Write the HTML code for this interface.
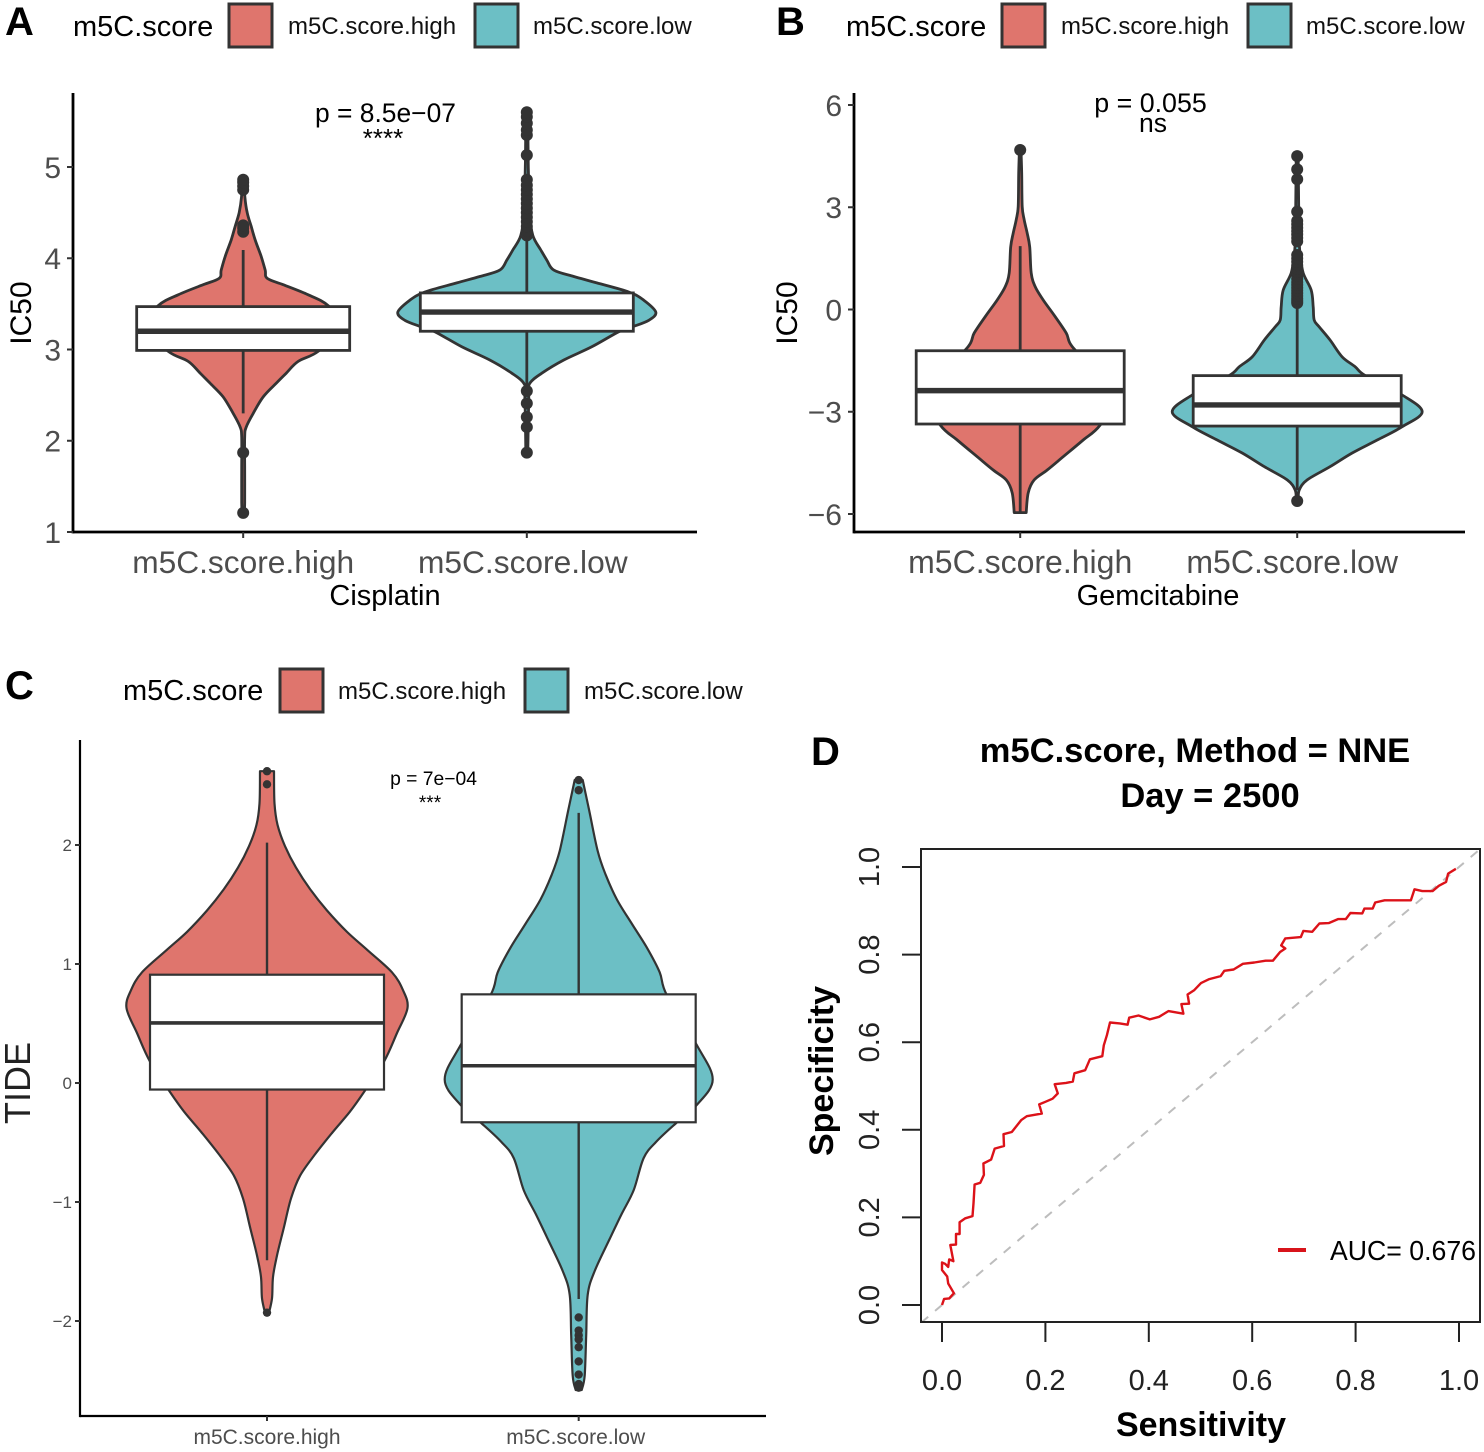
<!DOCTYPE html>
<html lang="en">
<head>
<meta charset="utf-8">
<title>m5C.score multi-panel figure</title>
<style>
html,body{margin:0;padding:0;background:#fff;width:1484px;height:1452px;overflow:hidden}
svg{display:block;font-family:"Liberation Sans",sans-serif}
</style>
</head>
<body>
<svg id="fig" xmlns="http://www.w3.org/2000/svg" width="1484" height="1452" viewBox="0 0 1484 1452">
<rect width="1484" height="1452" fill="#fff"/>

<g font-weight="bold" font-size="40" fill="#000">
<text x="5" y="35">A</text>
<text x="776" y="35">B</text>
<text x="5" y="699">C</text>
<text x="811" y="765">D</text>
</g>

<g>
<text x="73" y="36" font-size="29">m5C.score</text>
<rect x="229" y="4" width="43" height="43" fill="#DF756D" stroke="#333" stroke-width="3"/>
<text x="288" y="34" font-size="24" fill="#111">m5C.score.high</text>
<rect x="475" y="4" width="43" height="43" fill="#6CBFC5" stroke="#333" stroke-width="3"/>
<text x="533" y="34" font-size="24" fill="#111">m5C.score.low</text>
</g>
<g>
<text x="846" y="36" font-size="29">m5C.score</text>
<rect x="1002" y="4" width="43" height="43" fill="#DF756D" stroke="#333" stroke-width="3"/>
<text x="1061" y="34" font-size="24" fill="#111">m5C.score.high</text>
<rect x="1248" y="4" width="43" height="43" fill="#6CBFC5" stroke="#333" stroke-width="3"/>
<text x="1306" y="34" font-size="24" fill="#111">m5C.score.low</text>
</g>
<g>
<text x="123" y="700" font-size="29">m5C.score</text>
<rect x="280" y="669" width="43" height="43" fill="#DF756D" stroke="#333" stroke-width="3"/>
<text x="338" y="699" font-size="24" fill="#111">m5C.score.high</text>
<rect x="525" y="669" width="43" height="43" fill="#6CBFC5" stroke="#333" stroke-width="3"/>
<text x="584" y="699" font-size="24" fill="#111">m5C.score.low</text>
</g>

<g id="panel-a"></g>
<g id="panel-b"></g>
<g id="panel-c"></g>
<g id="panel-d"></g>

<g>
<text transform="translate(31,313) rotate(-90)" text-anchor="middle" font-size="30">IC50</text>
<text x="385" y="605" text-anchor="middle" font-size="29">Cisplatin</text>
<text x="385.5" y="122" text-anchor="middle" font-size="26.4">p = 8.5e−07</text>
<text x="383" y="147" text-anchor="middle" font-size="26">****</text>
</g>
<g>
<text transform="translate(797,313) rotate(-90)" text-anchor="middle" font-size="30">IC50</text>
<text x="1158" y="605" text-anchor="middle" font-size="29">Gemcitabine</text>
<text x="1150.5" y="112" text-anchor="middle" font-size="26.8">p = 0.055</text>
<text x="1153" y="132" text-anchor="middle" font-size="26.5">ns</text>
</g>
<g>
<text transform="translate(30,1083) rotate(-90)" text-anchor="middle" font-size="36" fill="#222">TIDE</text>
<text x="433.5" y="785" text-anchor="middle" font-size="19.3">p = 7e−04</text>
<text x="430" y="809" text-anchor="middle" font-size="19">***</text>
</g>
<g>
<text x="1195" y="762" text-anchor="middle" font-size="34.5" font-weight="bold">m5C.score, Method = NNE</text>
<text x="1210" y="807" text-anchor="middle" font-size="34.5" font-weight="bold">Day = 2500</text>
<text x="1201" y="1436" text-anchor="middle" font-size="34" font-weight="bold">Sensitivity</text>
<text transform="translate(833,1071) rotate(-90)" text-anchor="middle" font-size="34" font-weight="bold">Specificity</text>
<line x1="1278" y1="1250" x2="1306" y2="1250" stroke="#D8141B" stroke-width="4"/>
<text x="1330" y="1260" font-size="28" textLength="146" lengthAdjust="spacingAndGlyphs">AUC= 0.676</text>
</g>
</svg>

<script>
/* ---------- shared category labels ---------- */
var categories = ['m5C.score.high', 'm5C.score.low'];

/* ---------- Panel A: Cisplatin ---------- */
var aTicks = [1, 2, 3, 4, 5];
var aHighValues  = [4.86, 4.67, 4.5, 4.35, 4.2, 4.02, 3.87, 3.78, 3.71, 3.6, 3.48, 3.25, 2.98, 2.87, 2.74, 2.63, 2.48, 2.3, 2.15, 2.04, 1.68, 1.32, 1.21];
var aHighDensity = [1, 1.7, 4, 8, 12, 18, 22, 24, 40, 65, 85, 100, 75, 55, 43, 33, 20, 10, 3, 1.5, 1.5, 1.5, 1];
var aLowValues   = [5.6, 5, 4.5, 4.25, 4.09, 3.98, 3.87, 3.8, 3.73, 3.63, 3.54, 3.41, 3.32, 3.25, 3.195, 3.03, 2.885, 2.74, 2.63, 2.5, 1.87];
var aLowDensity  = [1, 1.5, 3, 6, 14, 20, 27, 47, 70, 102, 117, 129, 122, 106, 92, 65, 37, 15, 3, 2, 1];
var aHighBox = [2.3, 2.99, 3.2, 3.47, 4.09];
var aLowBox  = [2.59, 3.2, 3.41, 3.62, 4.25];
var aHighOutliers = [1.21, 1.87, 4.29, 4.33, 4.36, 4.75, 4.79, 4.83, 4.86];
var aLowOutliers  = [1.87, 2.15, 2.26, 2.41, 2.545, 4.25, 4.3, 4.35, 4.4, 4.45, 4.5, 4.55, 4.6, 4.65, 4.7, 4.75, 4.8, 4.86, 5.13, 5.35, 5.405, 5.48, 5.55, 5.6];

/* ---------- Panel B: Gemcitabine ---------- */
var bTicks = [-6, -3, 0, 3, 6];
var bHighValues  = [4.68, 4.0, 3.02, 2.63, 2.24, 1.84, 1.07, 0.67, 0.28, -0.21, -0.69, -1.19, -2.4, -3.39, -3.83, -4.32, -4.71, -5, -5.38, -5.96];
var bHighDensity = [0.8, 1.5, 2, 4, 7, 9.5, 11, 15, 23, 35, 46, 55, 100, 80, 63, 43, 27, 14, 8, 6];
var bLowValues   = [4.5, 3, 2, 1.6, 1.07, 0.57, 0.08, -0.31, -0.51, -0.9, -1.39, -1.68, -1.94, -2.51, -3, -3.44, -3.83, -4.21, -4.61, -5, -5.3, -5.62];
var bLowDensity  = [1, 1.5, 2, 3, 6, 14, 16, 17, 22, 33, 45, 58, 68, 105, 125, 105, 80, 55, 33, 10, 2, 1];
var bHighBox = [-5.96, -3.36, -2.38, -1.21, 1.86];
var bLowBox  = [-5.3, -3.42, -2.8, -1.94, 0.2];
var bHighOutliers = [4.68];
var bLowOutliers  = [-5.62, 0.19, 0.25, 0.32, 0.4, 0.48, 0.56, 0.64, 0.72, 0.8, 0.9, 1, 1.1, 1.2, 1.3, 1.4, 1.5, 1.6, 2.0, 2.1, 2.2, 2.3, 2.4, 2.5, 2.6, 2.87, 3.82, 4.11, 4.5];

/* ---------- Panel C: TIDE ---------- */
var cTicks = [-2, -1, 0, 1, 2];
var cHighValues  = [2.62, 2.35, 2.17, 1.99, 1.81, 1.63, 1.45, 1.27, 1.12, 0.93, 0.78, 0.63, 0.42, 0.18, -0.076, -0.24, -0.42, -0.6, -0.78, -0.97, -1.21, -1.45, -1.63, -1.81, -1.93];
var cHighDensity = [7, 7.5, 10.5, 18, 29, 43, 60, 80, 100, 125, 136, 140.5, 130, 117, 97, 83, 65, 48, 33, 24, 17, 10, 6, 5, 2];
var cLowValues   = [2.546, 2.29, 1.95, 1.75, 1.545, 1.34, 1.14, 0.93, 0.74, 0.32, 0.03, -0.185, -0.34, -0.49, -0.63, -0.9, -1.1, -1.31, -1.58, -1.78, -2.12, -2.46, -2.58];
var cLowDensity  = [4, 10.5, 19, 27, 38, 53, 68, 81, 88, 118, 134, 118, 97, 78, 65, 55, 43, 31, 16, 9, 7.5, 6, 3];
var cHighBox = [-1.49, -0.055, 0.505, 0.91, 2.02];
var cLowBox  = [-1.815, -0.33, 0.145, 0.745, 2.27];
var cHighOutliers = [2.62, 2.51, -1.93];
var cLowOutliers  = [2.546, 2.46, -1.97, -2.08, -2.12, -2.155, -2.22, -2.34, -2.45, -2.53, -2.56];

/* ---------- Panel D: ROC ---------- */
var rocTicks = [0, 0.2, 0.4, 0.6, 0.8, 1];
var rocSensitivity = [0, .004, .014, .023, .012, .010, 0, 0, .006, .012,
  .014, .022, .016, .027, .027, .034, .034, .045, .059, .061,
  .063, .074, .081, .080, .095, .102, .120, .119, .135, .153,
  .164, .193, .188, .200, .214, .224, .218, .240, .253, .256,
  .277, .286, .310, .313, .319, .325, .344, .359, .362, .380,
  .402, .420, .438, .467, .463, .478, .475, .488, .501, .517,
  .539, .546, .564, .582, .604, .626, .640, .654, .664, .656,
  .664, .694, .699, .716, .730, .748, .766, .781, .790, .813,
  .817, .833, .838, .856, .885, .907, .914, .929, .949, .961,
  .975, .979, .994];
var rocSpecificity = [0, .014, .015, .027, .049, .065, .080, .097, .094, .087,
  .104, .100, .137, .138, .162, .162, .189, .198, .203, .232,
  .275, .279, .297, .323, .332, .357, .363, .390, .395, .422,
  .431, .437, .458, .464, .471, .483, .504, .507, .510, .529,
  .536, .561, .568, .593, .616, .645, .643, .640, .656, .661,
  .652, .658, .671, .665, .687, .688, .709, .719, .735, .744,
  .751, .763, .766, .779, .782, .786, .786, .806, .814, .821,
  .837, .840, .854, .852, .871, .872, .881, .881, .895, .894,
  .905, .905, .919, .924, .924, .924, .949, .945, .945, .957,
  .966, .985, .996];

var NS = 'http://www.w3.org/2000/svg';
var RED = '#DF756D', TEAL = '#6CBFC5', INK = '#333333', TICK = '#4D4D4D';

function make(tag, attrs, parent) {
  var el = document.createElementNS(NS, tag);
  for (var k in attrs) el.setAttribute(k, attrs[k]);
  parent.appendChild(el);
  return el;
}
function linearScale(d0, d1, r0, r1) {
  return function (v) { return r0 + (v - d0) * (r1 - r0) / (d1 - d0); };
}
function fmt(v) { return String(v).replace('-', '\u2212'); }

/* smooth closed violin outline: down the right side, back up the left */
function violinPath(values, density, cx, y) {
  var right = values.map(function (v, i) { return [cx + density[i], y(v)]; });
  var left = values.map(function (v, i) { return [cx - density[i], y(v)]; }).reverse();
  function smooth(p) {
    var s = '';
    for (var i = 0; i < p.length - 1; i++) {
      var a = p[Math.max(i - 1, 0)], b = p[i], c = p[i + 1], d = p[Math.min(i + 2, p.length - 1)];
      var t = 1 / 6;
      s += 'C' + (b[0] + (c[0] - a[0]) * t).toFixed(1) + ' ' + (b[1] + (c[1] - a[1]) * t).toFixed(1) + ' ' +
           (c[0] - (d[0] - b[0]) * t).toFixed(1) + ' ' + (c[1] - (d[1] - b[1]) * t).toFixed(1) + ' ' +
           c[0].toFixed(1) + ' ' + c[1].toFixed(1);
    }
    return s;
  }
  return 'M' + right[0][0].toFixed(1) + ' ' + right[0][1].toFixed(1) + smooth(right) +
         'L' + left[0][0].toFixed(1) + ' ' + left[0][1].toFixed(1) + smooth(left) + 'Z';
}

function drawGroup(g, cx, y, values, density, box, outliers, color, cfg) {
  var v = make('path', { d: violinPath(values, density, cx, y), fill: color, stroke: INK, 'stroke-width': cfg.violinStroke, 'stroke-linejoin': 'round' }, g);
  
  

  var w = make('line', { x1: cx, x2: cx, y1: y(box[0]), y2: y(box[4]), stroke: INK, 'stroke-width': cfg.whiskerStroke }, g);
  
  

  var b = make('rect', { x: cx - cfg.boxHalf, width: cfg.boxHalf * 2, y: y(box[3]), height: y(box[1]) - y(box[3]), fill: '#fff', stroke: INK, 'stroke-width': cfg.boxStroke }, g);
  
  

  var m = make('line', { x1: cx - cfg.boxHalf, x2: cx + cfg.boxHalf, y1: y(box[2]), y2: y(box[2]), stroke: INK, 'stroke-width': cfg.medianStroke }, g);
  
  

  outliers.forEach(function (o) {
    var c = make('circle', { cx: cx, cy: y(o), r: cfg.pointR, fill: INK }, g);
    
    
  });
}

function drawAxes(g, cfg, y, ticks, centers) {
  var ya = make('line', { x1: cfg.left, x2: cfg.left, y1: cfg.top, y2: cfg.bottom + cfg.axisStroke / 2, stroke: '#000', 'stroke-width': cfg.axisStroke }, g);
  
  

  var xa = make('line', { x1: cfg.left, x2: cfg.axisEnd, y1: cfg.bottom, y2: cfg.bottom, stroke: '#000', 'stroke-width': cfg.axisStroke }, g);
  
  

  ticks.forEach(function (t) {
    var tk = make('line', { x1: cfg.left - cfg.tickLen, x2: cfg.left, y1: y(t), y2: y(t), stroke: '#333', 'stroke-width': 2 }, g);
    
    

    var lb = make('text', { x: cfg.left - cfg.tickLen - cfg.labelGap, y: y(t) + cfg.yLabelSize * 0.36, 'text-anchor': 'end', 'font-size': cfg.yLabelSize, fill: TICK }, g);
    lb.textContent = fmt(t);
    
    
  });

  categories.forEach(function (c, i) {
    var tk = make('line', { x1: centers[i], x2: centers[i], y1: cfg.bottom, y2: cfg.bottom + cfg.tickLen, stroke: '#333', 'stroke-width': 2 }, g);
    
    

    var lb = make('text', { x: centers[i] + cfg.catDx[i], y: cfg.catY, 'text-anchor': 'middle', 'font-size': cfg.catSize, fill: TICK }, g);
    lb.textContent = c;
    
    
  });
}

function drawViolinPanel(id, cfg, ticks, high, low) {
  var g = document.getElementById(id);
  var y = linearScale(cfg.d0, cfg.d1, cfg.r0, cfg.r1);
  /* ggplot discrete axis: two categories with 0.6 unit padding on either side */
  var x = linearScale(0.4, 2.6, cfg.left, cfg.right);
  var centers = [x(1), x(2)];
  drawGroup(g, centers[0], y, high[0], high[1], high[2], high[3], RED, cfg);
  drawGroup(g, centers[1], y, low[0], low[1], low[2], low[3], TEAL, cfg);
  drawAxes(g, cfg, y, ticks, centers);
}

drawViolinPanel('panel-a',
  { left: 73, right: 697, axisEnd: 697, top: 93, bottom: 532, d0: 1, d1: 5, r0: 532, r1: 167, boxHalf: 106.5, pointR: 6,
    violinStroke: 2.8, whiskerStroke: 2.8, boxStroke: 2.8, medianStroke: 5.4, axisStroke: 2.8, tickLen: 6, labelGap: 6,
    yLabelSize: 30, catSize: 31.7, catY: 573, catDx: [0, -4] }, aTicks,
  [aHighValues, aHighDensity, aHighBox, aHighOutliers],
  [aLowValues, aLowDensity, aLowBox, aLowOutliers]);

drawViolinPanel('panel-b',
  { left: 854, right: 1463.4, axisEnd: 1465, top: 93, bottom: 532, d0: -6, d1: 6, r0: 514, r1: 105, boxHalf: 104, pointR: 6,
    violinStroke: 2.8, whiskerStroke: 2.8, boxStroke: 2.8, medianStroke: 5.4, axisStroke: 2.8, tickLen: 6, labelGap: 6,
    yLabelSize: 30, catSize: 32, catY: 573, catDx: [0, -5] }, bTicks,
  [bHighValues, bHighDensity, bHighBox, bHighOutliers],
  [bLowValues, bLowDensity, bLowBox, bLowOutliers]);

drawViolinPanel('panel-c',
  { left: 80, right: 765.7, axisEnd: 766, top: 740, bottom: 1416, d0: -2, d1: 2, r0: 1321, r1: 845, boxHalf: 117, pointR: 4.2,
    violinStroke: 2.2, whiskerStroke: 2.4, boxStroke: 2.2, medianStroke: 3.6, axisStroke: 2.2, tickLen: 5, labelGap: 3,
    yLabelSize: 17, catSize: 21, catY: 1444, catDx: [0, -3] }, cTicks,
  [cHighValues, cHighDensity, cHighBox, cHighOutliers],
  [cLowValues, cLowDensity, cLowBox, cLowOutliers]);

/* ---------- ROC panel ---------- */
(function () {
  var g = document.getElementById('panel-d');
  var left = 921, right = 1480, top = 849, bottom = 1322;
  var x = linearScale(0, 1, 942, 1459);
  var y = linearScale(0, 1, 1305, 867);

  var clip = make('clipPath', { id: 'roc-clip' }, g);
  make('rect', { x: left, y: top, width: right - left, height: bottom - top }, clip);

  var diag = make('line', { x1: x(-0.04), y1: y(-0.04), x2: x(1.04), y2: y(1.04), stroke: '#BDBDBD', 'stroke-width': 2, 'stroke-dasharray': '9 9', 'clip-path': 'url(#roc-clip)' }, g);
  
  

  var d = rocSensitivity.map(function (s, i) { return (i ? 'L' : 'M') + x(s).toFixed(1) + ' ' + y(rocSpecificity[i]).toFixed(1); }).join('');
  var curve = make('path', { d: d, fill: 'none', stroke: '#DC1219', 'stroke-width': 2.4, 'stroke-linejoin': 'round' }, g);
  
  

  var frame = make('rect', { x: left, y: top, width: right - left, height: bottom - top, fill: 'none', stroke: '#222', 'stroke-width': 2 }, g);
  
  

  rocTicks.forEach(function (t) {
    var label = t.toFixed(1);

    var xt = make('line', { x1: x(t), x2: x(t), y1: bottom, y2: bottom + 20, stroke: '#222', 'stroke-width': 2 }, g);
    
    

    var xl = make('text', { x: x(t), y: 1390, 'text-anchor': 'middle', 'font-size': 29, fill: '#222' }, g);
    xl.textContent = label;
    
    

    var yt = make('line', { x1: left - 19, x2: left, y1: y(t), y2: y(t), stroke: '#222', 'stroke-width': 2 }, g);
    
    

    var yl = make('text', { transform: 'translate(879,' + y(t).toFixed(1) + ') rotate(-90)', 'text-anchor': 'middle', 'font-size': 29, fill: '#222' }, g);
    yl.textContent = label;
    
    
  });
})();
</script>
</body>
</html>
